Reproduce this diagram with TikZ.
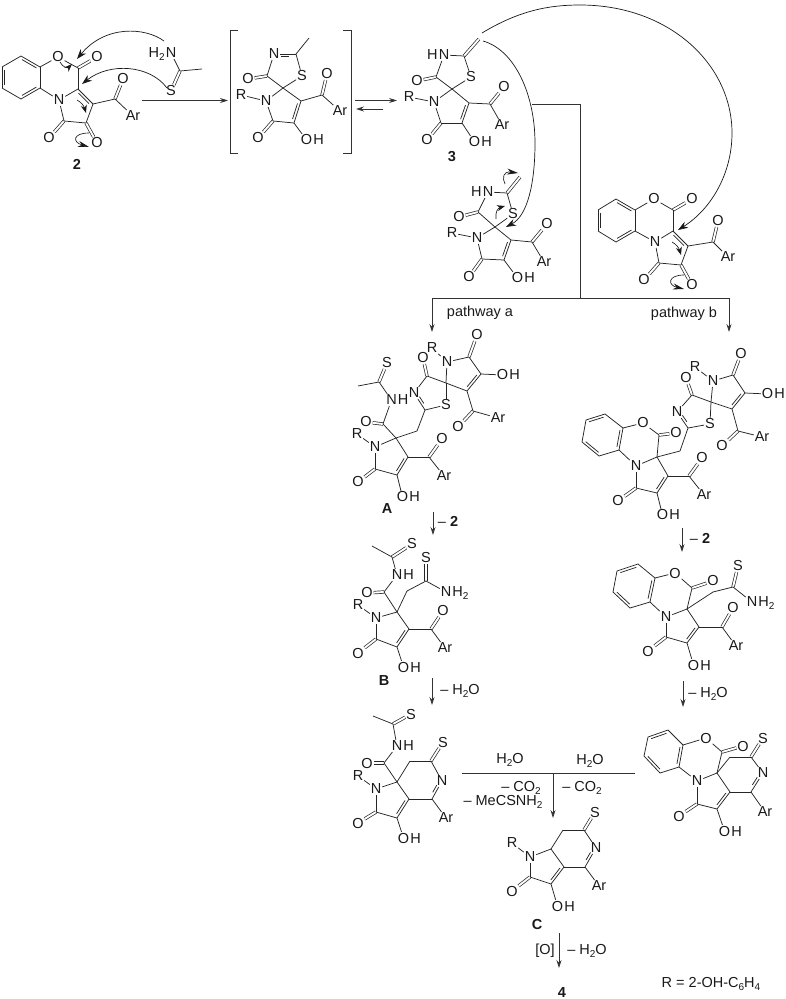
\documentclass[tikz,border=0pt]{standalone}
\usepackage{fontspec}
\setmainfont{Liberation Sans}
\usepackage{tikz}
\usetikzlibrary{calc}
\usetikzlibrary{arrows.meta}
\newcommand{\chemsub}[1]{\raisebox{-.35ex}{\fontsize{10}{10}\selectfont #1}}
\tikzset{
  atom/.style={inner sep=.8pt, font=\fontsize{14.5}{16}\selectfont, text=black!90},
  tag/.style={inner sep=0pt, font=\fontsize{14.5}{16}\selectfont\bfseries, text=black!90},
  cond/.style={inner sep=0pt, font=\fontsize{14.5}{16}\selectfont, text=black!90},
  bond/.style={line width=.75pt, draw=black!85},
  dbl/.style={line width=.7pt, draw=black!85, double, double distance=1.9pt},
  rxn/.style={line width=.75pt, draw=black!80, -{Stealth[length=8pt,width=5pt]}},
  tree/.style={line width=.75pt, draw=black!80},
  hook/.style={line width=.7pt, draw=black!90, -{Stealth[length=10pt,width=7pt]}},
  flick/.style={line width=.65pt, draw=black!90, -{Stealth[length=8pt,width=6pt]}},
  fatflick/.style={line width=.65pt, draw=black!90, -{Stealth[length=11pt,width=6pt]}}
}

\begin{document}
\begin{tikzpicture}[x=1pt, y=-1pt]
  \useasboundingbox (0,0) rectangle (785,999);
  % carbons
  \foreach \n/\x/\y in {
    a1/21/56, a2/40/67, a3/40/88, a4/21/99, a5/2/88, a6/2/67, a7/78/68, a8/78/89, a9/93/104, a10/86/123, a11/64/121, a12/115/99,
    t1/180/71, t2/202/69,
    b1/296/54, b2/309/38, b3/283/88, b4/267/76, b5/301/101, b6/294/123, b7/273/121, b8/322/95,
    c1/464/56, c2/479/39, c3/452/89, c4/436/77, c5/469/103, c6/462/123, c7/441/123, c8/490/104,
    d1/507/193, d2/520/177, d3/495/227, d4/478/212, d5/511/240, d6/504/260, d7/482/259, d8/532/242,
    e1/616/199, e2/635/210, e3/635/231, e4/616/242, e5/598/231, e6/598/210, e7/673/210, e8/673/231, e9/688/246, e10/681/265, e11/659/263, e12/713/242,
    f1/425/410, f2/446/383, f3/427/376, f4/467/391, f5/481/374, f6/469/357, f7/473/411,
    g1/417/431, g2/396/438, g3/383/424, g4/379/382, g5/358/386, g6/408/457, g7/397/475, g8/375/469, g9/429/457,
    h1/688/428, h2/711/402, h3/692/395, h4/732/409, h5/745/393, h6/733/375, h7/738/431,
    i1/623/428, i2/605/414, i3/586/420, i4/582/442, i5/599/456, i6/619/450, i7/680/451, i8/657/457, i9/659/435, i10/668/476, i11/657/493, i12/636/488, i13/689/476,
    j1/372/546, j2/392/557, j3/384/592, j4/397/612, j5/407/591, j6/426/581, j7/409/629, j8/397/647, j9/376/639, j10/431/629,
    k1/617/571, k2/638/564, k3/655/578, k4/650/602, k5/630/608, k6/613/592, k7/692/588, k8/687/609, k9/713/592, k10/733/587, k11/699/627, k12/687/643, k13/666/637, k14/722/627,
    l1/373/716, l2/393/724, l3/384/763, l4/397/782, l5/410/761, l6/431/761, l7/432/799, l8/409/799, l9/397/818, l10/376/812,
    m1/648/737, m2/668/730, m3/683/745, m4/679/767, m5/660/773, m6/644/756, m7/722/752, m8/717/773, m9/730/757, m10/751/757, m11/751/792, m12/730/792, m13/717/809, m14/697/804,
    n1/584/830, n2/563/830, n3/551/849, n4/564/867, n5/551/884, n6/530/877, n7/585/867,
    w1/142/100.5, w2/228/100.5, w3/355/100.5, w4/397/100.5, w5/383/109, w6/356/109,
    w7/532/104, w8/580/104, w9/580/298, w10/432/298, w11/729/298, w12/432/332, w13/729/332,
    w14/433/512, w15/433/535, w16/682/528, w17/682/552, w18/432/678, w19/432/705, w20/683/681, w21/683/707,
    w22/462/773, w23/635/773, w24/553/773, w25/553/818, w26/559/933, w27/559/968,
    u1/238/30, u2/230/30, u3/230/153, u4/238/153, u5/343/30, u6/351/30, u7/351/153, u8/343/153,
    v1/164/41, v2/77/59, v3/167/88, v4/82/84, v5/482/33, v6/580/5, v7/732/133, v8/678/230, v9/483/41, v10/535/143, v11/506/227,
    v12/60/62, v13/72/64, v14/77/100, v15/86/113, v16/89/133, v17/89/147,
    v18/672/242, v19/681/255, v20/684/275, v21/684/289, v22/505/184, v23/518/173, v24/496/219, v25/505/206%
  } \coordinate (\n) at (\x,\y);
  % labelled atoms
  \foreach \n/\x/\y/\t in {
    a13/58/57/O, a14/97/57/O, a15/59/100/N, a16/49/138/O, a17/97/143/O, a18/123/79/O, a19/133/116/Ar,
    t3/171/53/N, t4/171/91/S,
    b9/274/54/N, b10/302/76/S, b11/248/79/O, b12/266/101/N, b13/241/95/R, b14/258/138/O, b15/306.5/140/O, b16/327/74/O, b17/340/111/Ar,
    c9/444/55/N, c10/471/77/S, c11/417/81/O, c12/434/102/N, c13/409/97/R, c14/427/140/O, c15/474.5/142/O, c16/504/87/O, c17/502/125/Ar,
    d9/488/192/N, d10/513/214/S, d11/459/217/O, d12/477/238/N, d13/452/233/R, d14/469/277/O, d15/517.5/278/O, d16/547/224/O, d17/544/262/Ar,
    e13/654/199/O, e14/692/199/O, e15/655/242/N, e16/644/280/O, e17/692/285/O, e18/718/221/O, e19/728/257/Ar,
    f8/414/393/N, f9/446/405/S, f10/423/358/O, f11/447/362/N, f12/432/348/R, f13/477/335/O, f14/502.5/375/O, f15/458/427/O, f16/498/418/Ar,
    g10/391.5/400/N, g11/387/363/S, g12/366/422/O, g13/375/447/N, g14/357/434/R, g15/358/482/O, g16/402.5/497/O, g17/442/439/O, g18/444/476/Ar,
    h8/677/412/N, h9/710/424/S, h10/686/378/O, h11/713/381/N, h12/695/367/R, h13/741/354/O, h14/767.5/394/O, h15/722/446/O, h16/762/437/Ar,
    i14/643/423/O, i15/676/433/O, i16/636/466/N, i17/618/501/O, i18/662.5/515/O, i19/702/458/O, i20/704/495/Ar,
    j11/412/544/S, j12/397/575/N, j13/367/593/O, j14/426/558/S, j15/446/592/N, j16/376/618/N, j17/358/605/R, j18/358/653/O, j19/403.5/667/O, j20/443/611/O, j21/445/648/Ar,
    k15/675/573/O, k16/713/581/O, k17/666/617/N, k18/738/566/S, k19/752/602/N, k20/648/651/O, k21/693.5/665/O, k22/733/608/O, k23/736/646/Ar,
    l11/411/714/S, l12/397/746/N, l13/367/763/O, l14/443/742/S, l15/442/781/N, l16/376/789/N, l17/358/776/R, l18/358/823/O, l19/403.5/838/O, l20/446/818/Ar,
    m15/706/738/O, m16/743/746/O, m17/763/738/S, m18/763/773/N, m19/697/781/N, m20/679/816/O, m21/724.5/831/O, m22/765/812/Ar,
    n8/595/812/S, n9/596/848/N, n10/530/857/N, n11/512/843/R, n12/512/891/O, n13/557.5/906/O, n14/599/886/Ar%
  } \node [atom] (\n) at (\x,\y) {\t};
  % hydrogens on the right of an atom
  \foreach \n/\t in {b15/H, c15/H, d15/H, f14/H, g10/H, g16/H, h14/H, i18/H, j12/H, j19/H, j15/H\chemsub{2}, k19/H\chemsub{2}, k21/H, l12/H, l19/H, m21/H, n13/H}
    \node [atom, anchor=base west, inner xsep=0pt] (\n h) at (\n.base east) {\t};
  % hydrogens on the left of an atom
  \foreach \n/\t in {c9/H, d9/H, t3/H\chemsub{2}}
    \node [atom, anchor=base east, inner xsep=0pt] (\n h) at (\n.base west) {\t};
  % C=O and C=S
  \foreach \a/\b in {
    a7/a14, a11/a16, a10/a17, a12/a18, t1/t4,
    b4/b11, b7/b14, b8/b16, c1/c2, c4/c11, c7/c14, c8/c16, d1/d2, d4/d11, d7/d14, d8/d16,
    e7/e14, e11/e16, e10/e17, e12/e18,
    f3/f10, f6/f13, f7/f15, g4/g11, g3/g12, g8/g15, g9/g17,
    h3/h10, h6/h13, h7/h15, i9/i15, i12/i17, i13/i19,
    j2/j11, j3/j13, j6/j14, j9/j18, j10/j20,
    k7/k16, k10/k18, k13/k20, k14/k22,
    l2/l11, l3/l13, l6/l14, l10/l18, m7/m16, m10/m17, m14/m20, n1/n8, n6/n12%
  } \draw [dbl] (\a) -- (\b);
  % single bonds
  \foreach \a/\b in {
    a2/a3, a4/a5, a6/a1, a2/a13, a13/a7, a7/a8, a3/a15, a15/a8, a15/a11, a11/a10, a10/a9, a9/a12, a12/a19,
    t1/t2, t1/t3,
    b1/b2, b1/b10, b10/b3, b3/b4, b4/b9, b3/b12, b12/b13, b3/b5, b6/b7, b7/b12, b6/b15, b5/b8, b8/b17,
    c9/c1, c1/c10, c10/c3, c3/c4, c4/c9, c3/c12, c12/c13, c3/c5, c6/c7, c7/c12, c6/c15, c5/c8, c8/c17,
    d9/d1, d1/d10, d10/d3, d3/d4, d4/d9, d3/d12, d12/d13, d3/d5, d6/d7, d7/d12, d6/d15, d5/d8, d8/d17,
    e2/e3, e4/e5, e6/e1, e2/e13, e13/e7, e7/e8, e3/e15, e15/e8, e15/e11, e11/e10, e10/e9, e9/e12, e12/e19,
    f3/f8, f3/f2, f2/f9, f9/f1, f2/f11, f11/f12, f11/f6, f6/f5, f4/f2, f4/f7, f7/f16, f5/f14,
    f1/g1, g1/g2, g2/g3, g3/g10, g10/g4, g4/g5, g2/g13, g13/g14, g13/g8, g8/g7, g2/g6, g6/g9, g9/g18, g7/g16,
    h3/h8, h3/h2, h2/h9, h9/h1, h2/h11, h11/h12, h11/h6, h6/h5, h4/h2, h4/h7, h7/h16, h5/h14,
    h1/i7, i7/i8, i8/i9, i9/i14, i14/i1, i6/i16, i16/i8, i16/i12, i12/i11, i8/i10, i10/i13, i13/i20, i11/i18, i2/i1, i6/i5, i4/i3,
    j1/j2, j2/j12, j12/j3, j3/j4, j4/j5, j5/j6, j6/j15, j4/j16, j16/j17, j16/j9, j9/j8, j4/j7, j7/j10, j10/j21, j8/j19,
    k3/k15, k15/k7, k7/k8, k4/k17, k17/k8, k8/k9, k9/k10, k10/k19, k17/k13, k13/k12, k8/k11, k11/k14, k14/k23, k12/k21, k2/k3, k4/k5, k6/k1,
    l1/l2, l2/l12, l12/l3, l3/l4, l4/l5, l5/l6, l6/l15, l7/l8, l7/l20, l4/l16, l16/l17, l16/l10, l10/l9, l4/l8, l9/l19,
    m3/m15, m15/m7, m7/m8, m8/m9, m9/m10, m10/m18, m11/m12, m11/m22, m4/m19, m19/m8, m19/m14, m14/m13, m8/m12, m13/m21, m2/m3, m4/m5, m6/m1,
    n1/n2, n2/n3, n3/n10, n3/n4, n10/n11, n10/n6, n6/n5, n5/n13, n4/n7, n7/n14, n1/n9%
  } \draw [bond] (\a) -- (\b);
  % ring double bonds, inner line on the right of a to b
  \foreach \a/\b/\f in {
    a1/a2/.12, a3/a4/.12, a5/a6/.12, a8/a9/.15,
    b9/b1/.3, b5/b6/.15, c5/c6/.15, d5/d6/.15,
    e1/e2/.12, e3/e4/.12, e5/e6/.12, e8/e9/.15,
    f1/f8/.3, f5/f4/.15, g6/g7/.15, h1/h8/.3, h5/h4/.15,
    i3/i2/.12, i1/i6/.12, i5/i4/.12, i10/i11/.15, j7/j8/.15,
    k1/k2/.12, k3/k4/.12, k5/k6/.12, k11/k12/.15,
    l8/l9/.15, l15/l7/.3, m1/m2/.12, m3/m4/.12, m5/m6/.12, m12/m13/.15, m18/m11/.3,
    n4/n5/.15, n9/n7/.3%
  } {
    \draw [bond] (\a) -- (\b);
    \draw [bond] ($(\a)!\f!(\b)!2.6pt!-90:(\b)$) -- ($(\b)!\f!(\a)!2.6pt!90:(\a)$);
  }
  % brackets
  \draw [tree] (u1) -- (u2) -- (u3) -- (u4);
  \draw [tree] (u5) -- (u6) -- (u7) -- (u8);
  % reaction arrows
  \foreach \a/\b in {w1/w2, w3/w4, w5/w6, w10/w12, w11/w13, w14/w15, w16/w17, w18/w19, w20/w21, w24/w25, w26/w27}
    \draw [rxn] (\a) -- (\b);
  \draw [tree] (w7) -- (w8) -- (w9);
  \draw [tree] (w10) -- (w11);
  \draw [tree] (w22) -- (w23);
  % electron pushing
  \draw [hook] (v1) .. controls (145,27) and (105,25) .. (v2);
  \draw [hook] (v3) .. controls (150,65) and (110,62) .. (v4);
  \draw [hook] (v5) .. controls (520,10) and (550,5) .. (v6) .. controls (670,5) and (732,65) .. (v7) .. controls (732,175) and (710,210) .. (v8);
  \draw [hook] (v9) .. controls (515,50) and (535,95) .. (v10) .. controls (535,185) and (527,216) .. (v11);
  \draw [flick] (v12) .. controls (63,68) and (68,68) .. (v13);
  \draw [flick] (v14) .. controls (81,102) and (84,106) .. (v15);
  \draw [fatflick] (v16) .. controls (73,133) and (72,142) .. (v17);
  \draw [flick] (v18) .. controls (676,244) and (679,248) .. (v19);
  \draw [fatflick] (v20) .. controls (668,275) and (667,285) .. (v21);
  \draw [fatflick] (v22) .. controls (502,178) and (503,171) .. (v23);
  \draw [flick] (v24) .. controls (495,212) and (498,208) .. (v25);
  % compound labels
  \node [tag] (lab2) at (77,164) {2};
  \node [tag] (lab3) at (452,157) {3};
  \node [tag] (labA) at (387,509) {A};
  \node [tag] (labB) at (384,681) {B};
  \node [tag] (labC) at (537,924) {C};
  \node [tag] (lab4) at (562,992) {4};
  % conditions
  \node [cond] (paa) at (480,313) {pathway a};
  \node [cond] (pab) at (684,314) {pathway b};
  \node [cond] (st1) at (448,521) {– \textbf{2}};
  \node [cond] (st2) at (700,538) {– \textbf{2}};
  \node [cond] (st3) at (460,691) {– H\chemsub{2}O};
  \node [cond] (st4) at (708,694) {– H\chemsub{2}O};
  \node [cond] (wat1) at (510,760) {H\chemsub{2}O};
  \node [cond] (wat2) at (590,761) {H\chemsub{2}O};
  \node [cond] (co1) at (521,788) {– CO\chemsub{2}};
  \node [cond] (co2) at (582,788) {– CO\chemsub{2}};
  \node [cond] (mec) at (503,802) {– MeCSNH\chemsub{2}};
  \node [cond] (oxi) at (545,951) {[O]};
  \node [cond] (st5) at (587,951) {– H\chemsub{2}O};
  \node [cond] (rdef) at (711,984) {R = 2-OH-C\chemsub{6}H\chemsub{4}};
\end{tikzpicture}
\end{document}
